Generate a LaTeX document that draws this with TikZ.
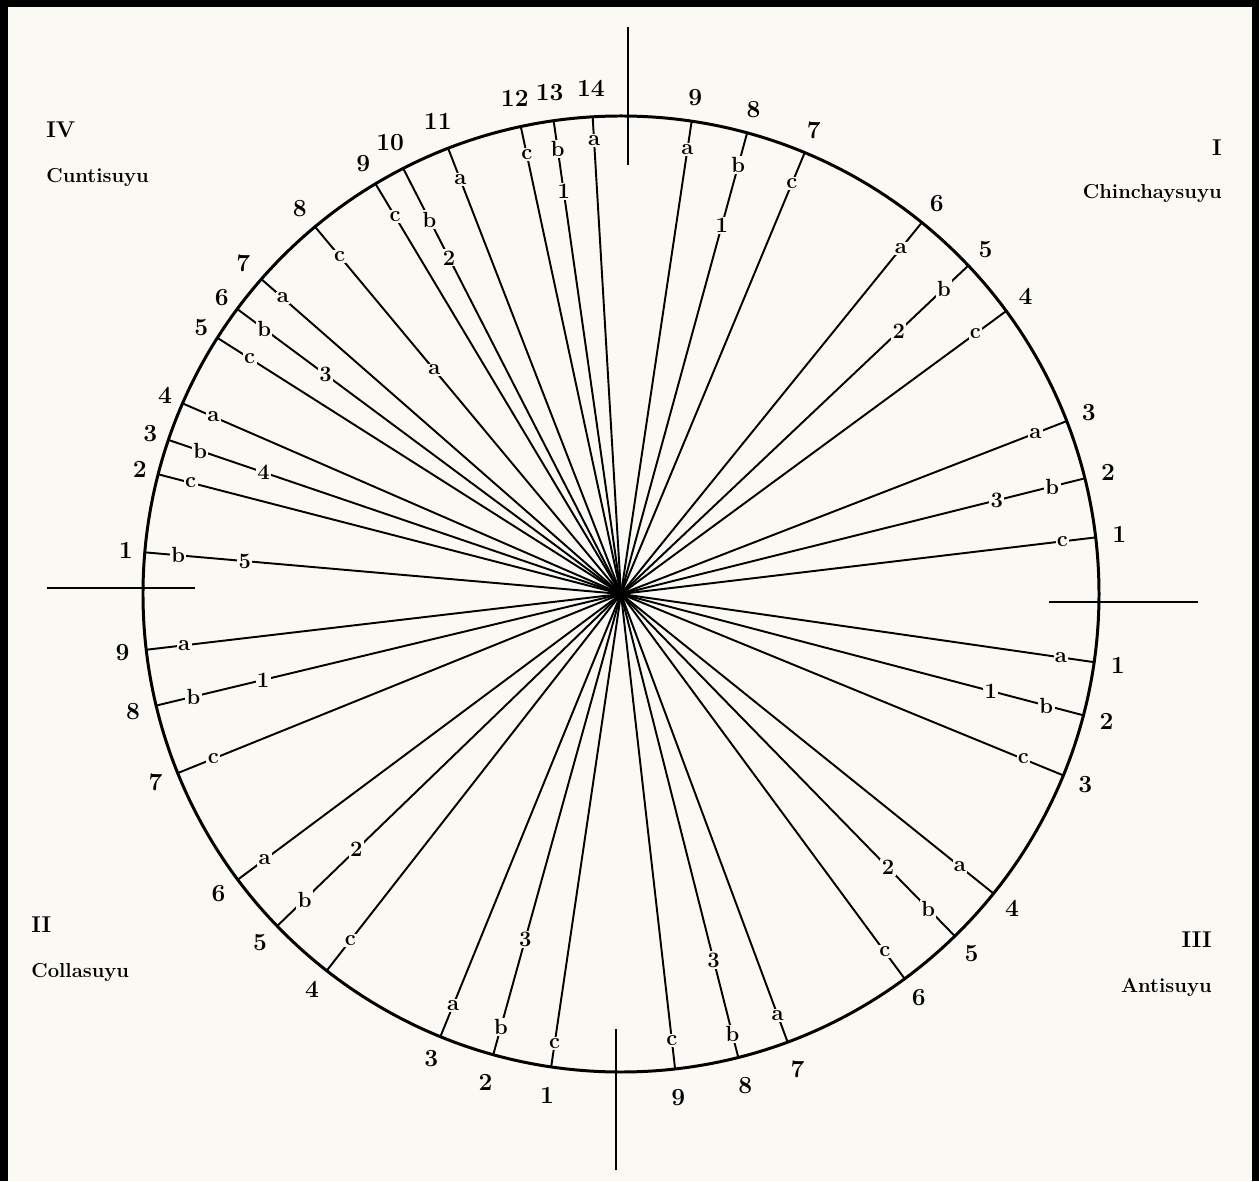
\documentclass[tikz,border=0pt]{standalone}
\usepackage{tikz}
\definecolor{paper}{RGB}{250,249,243}
\tikzset{ray/.style={line width=1.1pt},
         lbl/.style={fill=paper, inner sep=0.8pt, font=\fontsize{12.5}{13}\selectfont\bfseries},
         num/.style={inner sep=1pt, font=\fontsize{14}{15}\selectfont\bfseries},
         quarter/.style={inner sep=0pt, font=\fontsize{11.5}{13}\selectfont\bfseries},
         numeral/.style={inner sep=0pt, font=\fontsize{13}{14}\selectfont\bfseries},
         axis/.style={line width=1.5pt}}

\begin{document}
\begin{tikzpicture}
                    \def\R{9.56}
                    \fill[paper] (-12.42,-11.74) rectangle (12.76,11.88);
                    \useasboundingbox (-12.42,-11.74) rectangle (12.76,11.88);
                    \draw[line width=4.5pt] (-12.34,-11.74) -- (-12.34,11.82) -- (12.7,11.82) -- (12.7,-11.74);

                    \coordinate (O) at (0,0);

                    % axes of the four quarters
                    \coordinate (axN1) at (0.14,11.34);
                    \coordinate (axN2) at (0.14,8.58);
                    \coordinate (axS1) at (-0.10,-8.70);
                    \coordinate (axS2) at (-0.10,-11.52);
                    \coordinate (axW1) at (-11.48,0.12);
                    \coordinate (axW2) at (-8.52,0.12);
                    \coordinate (axE1) at (8.56,-0.16);
                    \coordinate (axE2) at (11.54,-0.16);
                    \draw[axis] (axN1) -- (axN2);
                    \draw[axis] (axS1) -- (axS2);
                    \draw[axis] (axW1) -- (axW2);
                    \draw[axis] (axE1) -- (axE2);

                    % I Chinchaysuyu
                    \coordinate (ch9) at (81.5:\R);
                    \coordinate (ch8) at (74.7:\R);
                    \coordinate (ch7) at (67.4:\R);
                    \coordinate (ch6) at (51.0:\R);
                    \coordinate (ch5) at (43.4:\R);
                    \coordinate (ch4) at (36.3:\R);
                    \coordinate (ch3) at (21.2:\R);
                    \coordinate (ch2) at (14.0:\R);
                    \coordinate (ch1) at (6.8:\R);
                    \draw[ray] (O) -- (ch9) node[lbl, pos=.94] (ch9a) {a};
                    \draw[ray] (O) -- (ch8) node[lbl, pos=.80] (ch8x) {1} node[lbl, pos=.93] (ch8a) {b};
                    \draw[ray] (O) -- (ch7) node[lbl, pos=.93] (ch7a) {c};
                    \draw[ray] (O) -- (ch6) node[lbl, pos=.93] (ch6a) {a};
                    \draw[ray] (O) -- (ch5) node[lbl, pos=.80] (ch5x) {2} node[lbl, pos=.93] (ch5a) {b};
                    \draw[ray] (O) -- (ch4) node[lbl, pos=.92] (ch4a) {c};
                    \draw[ray] (O) -- (ch3) node[lbl, pos=.93] (ch3a) {a};
                    \draw[ray] (O) -- (ch2) node[lbl, pos=.81] (ch2x) {3} node[lbl, pos=.93] (ch2a) {b};
                    \draw[ray] (O) -- (ch1) node[lbl, pos=.93] (ch1a) {c};
                    \node[num] (ch9n) at (81.5:{1.05*\R}) {9};
                    \node[num] (ch8n) at (74.7:{1.05*\R}) {8};
                    \node[num] (ch7n) at (67.4:{1.05*\R}) {7};
                    \node[num] (ch6n) at (51.0:{1.05*\R}) {6};
                    \node[num] (ch5n) at (43.4:{1.05*\R}) {5};
                    \node[num] (ch4n) at (36.3:{1.05*\R}) {4};
                    \node[num] (ch3n) at (21.2:{1.05*\R}) {3};
                    \node[num] (ch2n) at (14.0:{1.05*\R}) {2};
                    \node[num] (ch1n) at (6.8:{1.05*\R}) {1};

                    % III Antisuyu
                    \coordinate (an1) at (-8.2:\R);
                    \coordinate (an2) at (-14.7:\R);
                    \coordinate (an3) at (-22.3:\R);
                    \coordinate (an4) at (-38.8:\R);
                    \coordinate (an5) at (-45.7:\R);
                    \coordinate (an6) at (-53.6:\R);
                    \coordinate (an7) at (-69.6:\R);
                    \coordinate (an8) at (-75.8:\R);
                    \coordinate (an9) at (-83.5:\R);
                    \draw[ray] (O) -- (an1) node[lbl, pos=.93] (an1a) {a};
                    \draw[ray] (O) -- (an2) node[lbl, pos=.80] (an2x) {1} node[lbl, pos=.92] (an2a) {b};
                    \draw[ray] (O) -- (an3) node[lbl, pos=.91] (an3a) {c};
                    \draw[ray] (O) -- (an4) node[lbl, pos=.91] (an4a) {a};
                    \draw[ray] (O) -- (an5) node[lbl, pos=.80] (an5x) {2} node[lbl, pos=.92] (an5a) {b};
                    \draw[ray] (O) -- (an6) node[lbl, pos=.93] (an6a) {c};
                    \draw[ray] (O) -- (an7) node[lbl, pos=.94] (an7a) {a};
                    \draw[ray] (O) -- (an8) node[lbl, pos=.79] (an8x) {3} node[lbl, pos=.95] (an8a) {b};
                    \draw[ray] (O) -- (an9) node[lbl, pos=.94] (an9a) {c};
                    \node[num] (an1n) at (-8.2:{1.05*\R}) {1};
                    \node[num] (an2n) at (-14.7:{1.05*\R}) {2};
                    \node[num] (an3n) at (-22.3:{1.05*\R}) {3};
                    \node[num] (an4n) at (-38.8:{1.05*\R}) {4};
                    \node[num] (an5n) at (-45.7:{1.05*\R}) {5};
                    \node[num] (an6n) at (-53.6:{1.05*\R}) {6};
                    \node[num] (an7n) at (-69.6:{1.06*\R}) {7};
                    \node[num] (an8n) at (-75.8:{1.06*\R}) {8};
                    \node[num] (an9n) at (-83.5:{1.06*\R}) {9};

                    % II Collasuyu
                    \coordinate (co1) at (261.6:\R);
                    \coordinate (co2) at (254.5:\R);
                    \coordinate (co3) at (247.8:\R);
                    \coordinate (co4) at (232.0:\R);
                    \coordinate (co5) at (224.0:\R);
                    \coordinate (co6) at (216.7:\R);
                    \coordinate (co7) at (202.0:\R);
                    \coordinate (co8) at (193.5:\R);
                    \coordinate (co9) at (186.7:\R);
                    \draw[ray] (O) -- (co1) node[lbl, pos=.95] (co1a) {c};
                    \draw[ray] (O) -- (co2) node[lbl, pos=.75] (co2x) {3} node[lbl, pos=.94] (co2a) {b};
                    \draw[ray] (O) -- (co3) node[lbl, pos=.93] (co3a) {a};
                    \draw[ray] (O) -- (co4) node[lbl, pos=.92] (co4a) {c};
                    \draw[ray] (O) -- (co5) node[lbl, pos=.77] (co5x) {2} node[lbl, pos=.92] (co5a) {b};
                    \draw[ray] (O) -- (co6) node[lbl, pos=.93] (co6a) {a};
                    \draw[ray] (O) -- (co7) node[lbl, pos=.92] (co7a) {c};
                    \draw[ray] (O) -- (co8) node[lbl, pos=.77] (co8x) {1} node[lbl, pos=.92] (co8a) {b};
                    \draw[ray] (O) -- (co9) node[lbl, pos=.92] (co9a) {a};
                    \node[num] (co1n) at (261.6:{1.06*\R}) {1};
                    \node[num] (co2n) at (254.5:{1.06*\R}) {2};
                    \node[num] (co3n) at (247.8:{1.05*\R}) {3};
                    \node[num] (co4n) at (232.0:{1.05*\R}) {4};
                    \node[num] (co5n) at (224.0:{1.05*\R}) {5};
                    \node[num] (co6n) at (216.7:{1.05*\R}) {6};
                    \node[num] (co7n) at (202.0:{1.05*\R}) {7};
                    \node[num] (co8n) at (193.5:{1.05*\R}) {8};
                    \node[num] (co9n) at (186.7:{1.05*\R}) {9};

                    % IV Cuntisuyu
                    \coordinate (cu1) at (175.0:\R);
                    \coordinate (cu2) at (165.5:\R);
                    \coordinate (cu3) at (161.2:\R);
                    \coordinate (cu4) at (156.5:\R);
                    \coordinate (cu5) at (147.6:\R);
                    \coordinate (cu6) at (143.4:\R);
                    \coordinate (cu7) at (138.8:\R);
                    \coordinate (cu8) at (129.8:\R);
                    \coordinate (cu9) at (120.9:\R);
                    \coordinate (cu10) at (117.1:\R);
                    \coordinate (cu11) at (111.2:\R);
                    \coordinate (cu12) at (102.1:\R);
                    \coordinate (cu13) at (98.1:\R);
                    \coordinate (cu14) at (93.4:\R);
                    \draw[ray] (O) -- (cu1) node[lbl, pos=.79] (cu1x) {5} node[lbl, pos=.93] (cu1a) {b};
                    \draw[ray] (O) -- (cu2) node[lbl, pos=.93] (cu2a) {c};
                    \draw[ray] (O) -- (cu3) node[lbl, pos=.79] (cu3x) {4} node[lbl, pos=.93] (cu3a) {b};
                    \draw[ray] (O) -- (cu4) node[lbl, pos=.93] (cu4a) {a};
                    \draw[ray] (O) -- (cu5) node[lbl, pos=.92] (cu5a) {c};
                    \draw[ray] (O) -- (cu6) node[lbl, pos=.77] (cu6x) {3} node[lbl, pos=.93] (cu6a) {b};
                    \draw[ray] (O) -- (cu7) node[lbl, pos=.94] (cu7a) {a};
                    \draw[ray] (O) -- (cu8) node[lbl, pos=.61] (cu8x) {a} node[lbl, pos=.92] (cu8a) {c};
                    \draw[ray] (O) -- (cu9) node[lbl, pos=.92] (cu9a) {c};
                    \draw[ray] (O) -- (cu10) node[lbl, pos=.79] (cu10x) {2} node[lbl, pos=.88] (cu10a) {b};
                    \draw[ray] (O) -- (cu11) node[lbl, pos=.93] (cu11a) {a};
                    \draw[ray] (O) -- (cu12) node[lbl, pos=.94] (cu12a) {c};
                    \draw[ray] (O) -- (cu13) node[lbl, pos=.85] (cu13x) {1} node[lbl, pos=.94] (cu13a) {b};
                    \draw[ray] (O) -- (cu14) node[lbl, pos=.95] (cu14a) {a};
                    \node[num] (cu1n) at (175.0:{1.04*\R}) {1};
                    \node[num] (cu2n) at (165.5:{1.04*\R}) {2};
                    \node[num] (cu3n) at (161.2:{1.04*\R}) {3};
                    \node[num] (cu4n) at (156.5:{1.04*\R}) {4};
                    \node[num] (cu5n) at (147.6:{1.04*\R}) {5};
                    \node[num] (cu6n) at (143.4:{1.04*\R}) {6};
                    \node[num] (cu7n) at (138.8:{1.05*\R}) {7};
                    \node[num] (cu8n) at (129.8:{1.05*\R}) {8};
                    \node[num] (cu9n) at (120.9:{1.05*\R}) {9};
                    \node[num] (cu10n) at (117.1:{1.06*\R}) {10};
                    \node[num] (cu11n) at (111.2:{1.06*\R}) {11};
                    \node[num] (cu12n) at (102.1:{1.06*\R}) {12};
                    \node[num] (cu13n) at (98.1:{1.06*\R}) {13};
                    \node[num] (cu14n) at (93.4:{1.06*\R}) {14};

                    \draw[line width=1.7pt] (O) circle (\R);

                    % names of the quarters
                    \node[numeral, anchor=west] (IV) at (-11.5,9.28) {IV};
                    \node[quarter, anchor=west] (Cunti) at (-11.5,8.34) {Cuntisuyu};
                    \node[numeral, anchor=east] (I) at (12.02,8.92) {I};
                    \node[quarter, anchor=east] (Chincha) at (12.02,8.02) {Chinchaysuyu};
                    \node[numeral, anchor=west] (II) at (-11.8,-6.62) {II};
                    \node[quarter, anchor=west] (Colla) at (-11.8,-7.56) {Collasuyu};
                    \node[numeral, anchor=east] (III) at (11.82,-6.92) {III};
                    \node[quarter, anchor=east] (Anti) at (11.82,-7.86) {Antisuyu};

                 \end{tikzpicture}
\end{document}
